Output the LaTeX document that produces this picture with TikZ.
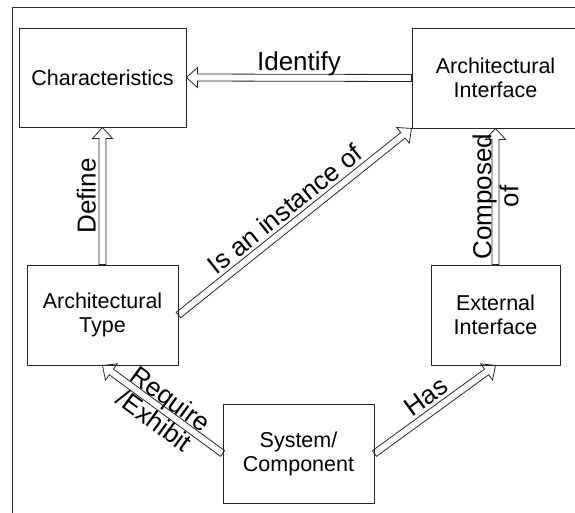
\documentclass[tikz,border=0pt]{standalone}
\usepackage{fontspec}
\setmainfont{Liberation Sans}
\usetikzlibrary{calc}
\tikzset{
  box/.style={draw=black!85, line width=0.9pt, inner sep=0pt, align=center, font=\fontsize{21.5}{24}\selectfont},
  harrowline/.style={draw=black!85, line width=0.8pt, line join=miter},
  frameline/.style={draw=black!80, line width=0.9pt},
  lbl/.style={font=\fontsize{26}{27}\selectfont, inner sep=0pt},
}
\newcommand{\hollowarr}[2]{%
  \coordinate (hA) at (#1);
  \coordinate (hB) at (#2);
  \coordinate (hC) at ($(hB)!11pt!(hA)$);
  \draw[harrowline] ($(hA)!3.5pt!90:(hB)$) -- ($(hC)!3.5pt!90:(hB)$) -- ($(hC)!10pt!90:(hB)$) -- (hB)
     -- ($(hC)!10pt!-90:(hB)$) -- ($(hC)!3.5pt!-90:(hB)$) -- ($(hA)!3.5pt!-90:(hB)$) -- cycle;}
\newcommand{\sidelabel}[3]{%
  \path ($(#1)!7pt!90:(#2)$) -- ($(#2)!7pt!-90:(#1)$) node[lbl, midway, sloped, anchor=base]{#3};}
\begin{document}
\begin{tikzpicture}[x=1pt,y=-1pt]
\useasboundingbox (0,0) rectangle (575,513);
\clip (0,0) rectangle (575,513);
\draw[frameline] (12,530) -- (12,7) -- (600,7);

\node[box, minimum width=167pt, minimum height=99pt] (char) at (102.5,77.5) {Characteristics};
\node[box, minimum width=167pt, minimum height=100pt] (ai) at (495.5,78) {Architectural\\Interface};
\node[box, minimum width=151pt, minimum height=100pt] (at) at (102.5,315) {Architectural\\Type};
\node[box, minimum width=129pt, minimum height=100pt] (ei) at (495.5,315) {External\\Interface};
\node[box, minimum width=151pt, minimum height=99pt] (sc) at (298.5,453.5) {System/\\Component};

\hollowarr{ai.west}{char.east}
\hollowarr{at.north}{char.south}
\hollowarr{at.east}{ai.south west}
\hollowarr{ei.north}{ai.south}
\hollowarr{sc.west}{at.south}
\hollowarr{sc.east}{ei.south}

\sidelabel{char.east}{ai.west}{Identify}
\sidelabel{at.north}{char.south}{Define}
\sidelabel{at.east}{ai.south west}{Is an instance of}
\sidelabel{sc.east}{ei.south}{Has}
\path (ei.north) -- (ai.south) node[lbl, midway, sloped, align=center]{Composed\\of};
\path (at.south) -- (sc.west) node[lbl, midway, sloped, align=center]{Require\\/Exhibit};
\end{tikzpicture}
\end{document}
